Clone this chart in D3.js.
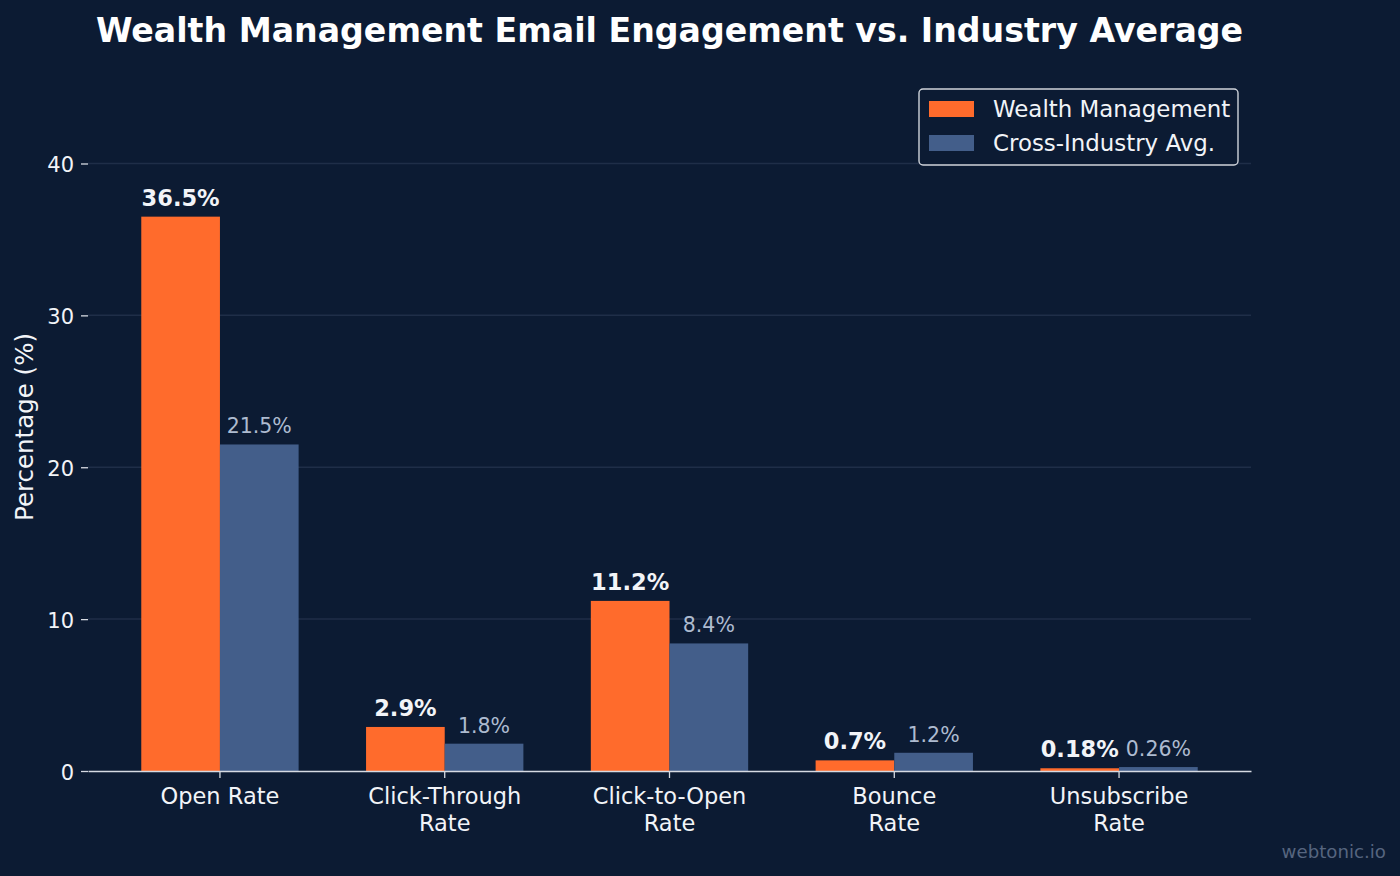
<!DOCTYPE html>
<html>
<head>
<meta charset="utf-8">
<script src="https://cdn.jsdelivr.net/npm/d3@7"></script>
<style>
    html, body { margin: 0; padding: 0; background: #0c1b33; }
    svg { display: block; font-family: "DejaVu Sans", sans-serif; }
</style>
</head>
<body>
<div id="chart"></div>
<script>
// data
const categories = ["Open Rate", "Click-Through\nRate", "Click-to-Open\nRate", "Bounce\nRate", "Unsubscribe\nRate"];
const wealthMgmt = [36.5, 2.9, 11.2, 0.7, 0.18];
const industryAvg = [21.5, 1.8, 8.4, 1.2, 0.26];
const seriesNames = ["Wealth Management", "Cross-Industry Avg."];
const yTicks = [0, 10, 20, 30, 40];

const width = 1400,
    height = 876,
    margin = { top: 83, right: 149, bottom: 105, left: 88 },
    bg = "#0c1b33",
    orange = "#ff6b2c",
    steel = "#435e8a",
    fg = "#f2f4f8";

const rows = categories.map((c, i) => ({ cat: c, wm: wealthMgmt[i], ind: industryAvg[i] }));

const svg = d3.select('#chart').append('svg')
    .attr('width', width)
    .attr('height', height);

svg.append('rect')
    .attr('width', width)
    .attr('height', height)
    .attr('fill', bg);

const x = d3.scaleBand()
    .domain(categories)
    .range([margin.left, width - margin.right])
    .paddingInner(0.3)
    .paddingOuter(0.237);

const xSub = d3.scaleBand()
    .domain(["wm", "ind"])
    .range([0, x.bandwidth()]);

const y = d3.scaleLinear()
    .domain([0, 45.3])
    .range([height - margin.bottom, margin.top]);

// grid
svg.append('g')
    .selectAll('line')
    .data(yTicks.filter(d => d > 0))
    .enter()
    .append('line')
    .attr('x1', margin.left)
    .attr('x2', width - margin.right)
    .attr('y1', d => y(d))
    .attr('y2', d => y(d))
    .attr('stroke', '#1f2e48')
    .attr('stroke-width', 1.5);

// bars
const groups = svg.append('g')
    .selectAll('g')
    .data(rows)
    .enter()
    .append('g')
    .attr('transform', d => `translate(${x(d.cat)},0)`);

groups.append('rect')
    .attr('x', xSub('wm'))
    .attr('y', d => y(d.wm))
    .attr('width', xSub.bandwidth())
    .attr('height', d => y(0) - y(d.wm))
    .attr('fill', orange);

groups.append('rect')
    .attr('x', xSub('ind'))
    .attr('y', d => y(d.ind))
    .attr('width', xSub.bandwidth())
    .attr('height', d => y(0) - y(d.ind))
    .attr('fill', steel);

// value labels
groups.append('text')
    .attr('x', xSub('wm') + xSub.bandwidth() / 2)
    .attr('y', d => y(d.wm) - 11)
    .attr('text-anchor', 'middle')
    .attr('font-size', '22.5px')
    .attr('font-weight', 'bold')
    .attr('fill', fg)
    .text(d => d.wm + '%');

groups.append('text')
    .attr('x', xSub('ind') + xSub.bandwidth() / 2)
    .attr('y', d => y(d.ind) - 11)
    .attr('text-anchor', 'middle')
    .attr('font-size', '20.5px')
    .attr('fill', '#aebbd0')
    .text(d => d.ind + '%');

// y axis (no spine)
const yAxis = svg.append('g')
    .attr('transform', `translate(${margin.left},0)`)
    .call(d3.axisLeft(y).tickValues(yTicks).tickSize(7).tickPadding(7));
yAxis.select('.domain').remove();
yAxis.selectAll('line').attr('stroke', '#d6dae2').attr('stroke-width', 1.3);
yAxis.selectAll('text')
    .attr('fill', fg)
    .attr('font-size', '21px')
    .attr('font-family', '"DejaVu Sans", sans-serif')
    .attr('dy', '0.4em');

// x axis
const xAxis = svg.append('g')
    .attr('transform', `translate(0,${y(0)})`)
    .call(d3.axisBottom(x).tickSize(7).tickSizeOuter(0).tickPadding(7));
xAxis.select('.domain').attr('stroke', '#d6dae2').attr('stroke-width', 1.6);
xAxis.selectAll('line').attr('stroke', '#d6dae2').attr('stroke-width', 1.3);
xAxis.selectAll('text').remove();
xAxis.selectAll('.tick')
    .append('text')
    .attr('fill', fg)
    .attr('font-size', '22.5px')
    .attr('font-family', '"DejaVu Sans", sans-serif')
    .attr('text-anchor', 'middle')
    .each(function (d) {
        const t = d3.select(this);
        d.split('\n').forEach((line, i) => {
            t.append('tspan')
                .attr('x', 0)
                .attr('y', 33 + i * 27)
                .text(line);
        });
    });

// y label
svg.append('text')
    .attr('transform', `translate(33,${(y(0) + y(45.3)) / 2}) rotate(-90)`)
    .attr('text-anchor', 'middle')
    .attr('font-size', '24.5px')
    .attr('fill', fg)
    .text('Percentage (%)');

// title
svg.append('text')
    .attr('x', (margin.left + width - margin.right) / 2)
    .attr('y', 42)
    .attr('text-anchor', 'middle')
    .attr('font-size', '33.2px')
    .attr('font-weight', 'bold')
    .attr('fill', '#ffffff')
    .text('Wealth Management Email Engagement vs. Industry Average');

// legend
const legend = svg.append('g').attr('transform', 'translate(919,89)');
legend.append('rect')
    .attr('width', 319)
    .attr('height', 76)
    .attr('rx', 4)
    .attr('fill', bg)
    .attr('stroke', '#cfd3da')
    .attr('stroke-width', 1.4);

const items = legend.selectAll('g.item')
    .data(seriesNames)
    .enter()
    .append('g')
    .attr('class', 'item')
    .attr('transform', (d, i) => `translate(0,${i * 34})`);

items.append('rect')
    .attr('x', 10)
    .attr('y', 12)
    .attr('width', 45)
    .attr('height', 16)
    .attr('fill', (d, i) => i === 0 ? orange : steel);

items.append('text')
    .attr('x', 74)
    .attr('y', 28)
    .attr('font-size', '22.9px')
    .attr('fill', fg)
    .text(d => d);

// watermark
svg.append('text')
    .attr('x', 1386)
    .attr('y', 858)
    .attr('text-anchor', 'end')
    .attr('font-size', '18.2px')
    .attr('fill', '#56657f')
    .text('webtonic.io');
</script>
</body>
</html>
